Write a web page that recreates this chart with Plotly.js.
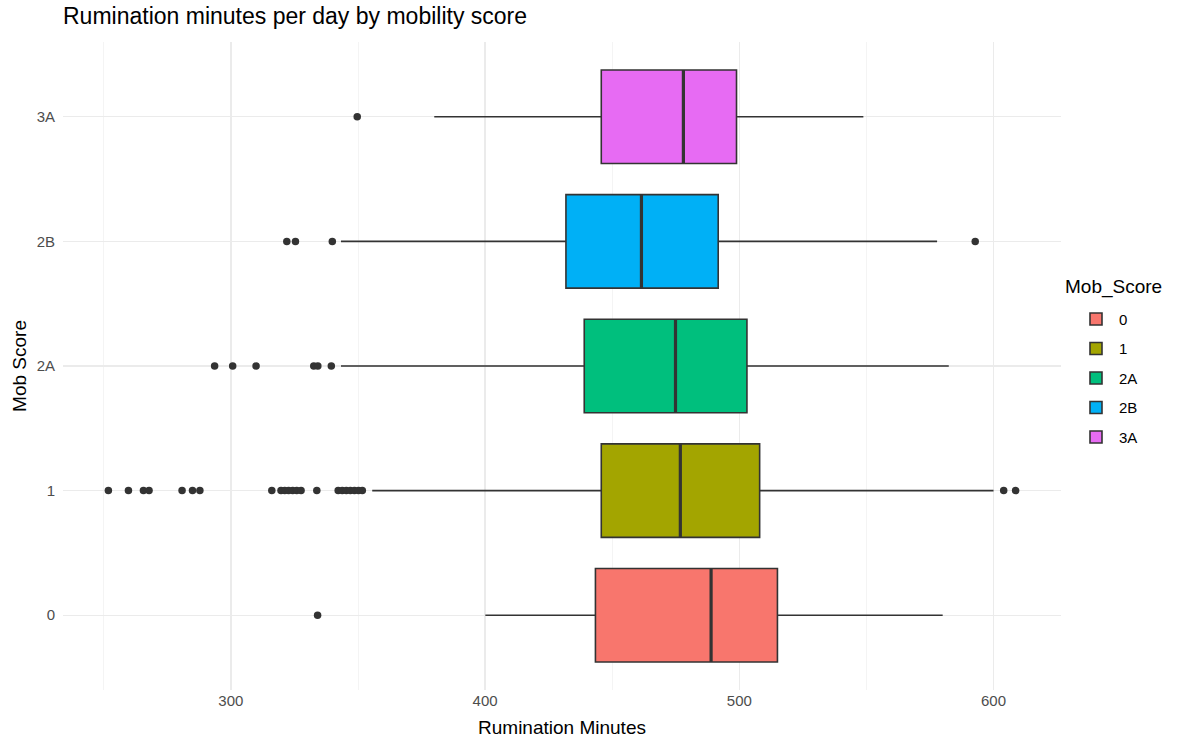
<!DOCTYPE html>
<html>
<head>
<meta charset="utf-8">
<script src="https://cdn.plot.ly/plotly-3.0.1.min.js"></script>
<style>
  html, body { margin: 0; padding: 0; background: #ffffff; }
  #chart { width: 1200px; height: 738px; }
</style>
</head>
<body>
<div id="chart"></div>
<script>
// Mobility score groups, bottom to top
const categories = ["0", "1", "2A", "2B", "3A"];
const fillColors = ["#F8766D", "#A3A500", "#00BF7D", "#00B0F6", "#E76BF3"];

// Five-number summaries of rumination minutes per group
const lowerWhisker = [400.1, 355.6, 343.3, 343.3, 380.0];
const q1Values     = [443.4, 445.7, 439.0, 431.8, 445.7];
const medianValues = [488.9, 476.8, 474.9, 461.5, 478.0];
const q3Values     = [515.0, 508.0, 503.0, 491.7, 498.9];
const upperWhisker = [580.0, 600.0, 582.4, 577.8, 548.8];

// Outlying observations per group
const outliers0  = [334.1];
const outliers1  = [251.8, 259.7, 265.6, 267.8, 280.8, 284.9, 287.8,
                    316.1, 319.7, 321.2, 322.7, 324.3, 325.9, 327.6,
                    333.8, 342.2, 343.8, 345.4, 347.0, 348.6, 350.2, 351.7,
                    604.0, 608.7];
const outliers2A = [293.6, 300.7, 309.9, 332.6, 334.2, 339.5];
const outliers2B = [322.0, 325.4, 339.9, 592.8];
const outliers3A = [349.7];
const outlierSets = [outliers0, outliers1, outliers2A, outliers2B, outliers3A];

const xTickValues = [300, 400, 500, 600];

const BOX_WIDTH = 0.75;
const FONT = "Liberation Sans, Arial, Helvetica, sans-serif";
const INK = "#333333";

const traces = [];

// One box per group (precomputed statistics, no caps on whiskers)
categories.forEach((cat, i) => {
  traces.push({
    type: "box",
    orientation: "h",
    name: cat,
    legendgroup: "g" + i,
    y: [i],
    q1: [q1Values[i]],
    median: [medianValues[i]],
    q3: [q3Values[i]],
    lowerfence: [lowerWhisker[i]],
    upperfence: [upperWhisker[i]],
    width: BOX_WIDTH,
    whiskerwidth: 0,
    fillcolor: fillColors[i],
    line: { color: INK, width: 1.6 },
    boxpoints: false,
    hoverinfo: "skip",
    showlegend: true
  });
});

// Heavier median bars drawn over each box
categories.forEach((cat, i) => {
  traces.push({
    type: "scatter",
    mode: "lines",
    x: [medianValues[i], medianValues[i]],
    y: [i - BOX_WIDTH / 2, i + BOX_WIDTH / 2],
    line: { color: INK, width: 3.2 },
    showlegend: false,
    hoverinfo: "skip"
  });
});

// Outlier points
const outX = [];
const outY = [];
outlierSets.forEach((set, i) => {
  set.forEach(v => { outX.push(v); outY.push(i); });
});
traces.push({
  type: "scatter",
  mode: "markers",
  x: outX,
  y: outY,
  marker: { color: INK, size: 7.5 },
  showlegend: false,
  hoverinfo: "skip"
});

// x range: data extent padded by 5% on each side
const allX = outX.concat(lowerWhisker, upperWhisker);
const xMin = Math.min(...allX), xMax = Math.max(...allX);
const pad = (xMax - xMin) * 0.05;

const layout = {
  width: 1200,
  height: 738,
  paper_bgcolor: "#ffffff",
  plot_bgcolor: "#ffffff",
  font: { family: FONT, color: "#000000" },
  margin: { l: 63, r: 139, t: 42, b: 48 },
  boxmode: "overlay",
  title: {
    text: "Rumination minutes per day by mobility score",
    x: 0, xref: "paper", xanchor: "left",
    y: 1 - 16 / 738, yref: "container", yanchor: "middle",
    font: { family: FONT, size: 23, color: "#000000" }
  },
  xaxis: {
    range: [xMin - pad, xMax + pad],
    tickvals: xTickValues,
    ticks: "",
    showline: false,
    zeroline: false,
    showgrid: true,
    gridcolor: "#ebebeb",
    gridwidth: 1.3,
    minor: { dtick: 50, tick0: 0, showgrid: true, gridcolor: "#f4f4f4", gridwidth: 1 },
    tickfont: { family: FONT, size: 15, color: "#4D4D4D" },
    title: { text: "Rumination Minutes", standoff: 13, font: { family: FONT, size: 19, color: "#000000" } }
  },
  yaxis: {
    range: [-0.6, categories.length - 0.4],
    tickvals: categories.map((c, i) => i),
    ticktext: categories,
    ticks: "",
    ticklabelstandoff: 7,
    showline: false,
    zeroline: false,
    showgrid: true,
    gridcolor: "#ebebeb",
    gridwidth: 1.3,
    tickfont: { family: FONT, size: 15, color: "#4D4D4D" },
    title: { text: "Mob Score", standoff: 4, font: { family: FONT, size: 19, color: "#000000" } }
  },
  legend: {
    x: 1.0, xanchor: "left",
    y: 0.481, yanchor: "middle",
    traceorder: "grouped",
    tracegroupgap: 7,
    indentation: 12,
    itemwidth: 36,
    font: { family: FONT, size: 15, color: "#000000" },
    bgcolor: "rgba(0,0,0,0)"
  },
  // legend heading
  annotations: [{
    text: "Mob_Score",
    xref: "paper", yref: "paper",
    x: 1.0, xanchor: "left", xshift: 2,
    y: 0.622, yanchor: "middle",
    showarrow: false,
    font: { family: FONT, size: 19, color: "#000000" }
  }],
  showlegend: true
};

Plotly.newPlot("chart", traces, layout, { displayModeBar: false, staticPlot: true });
</script>
</body>
</html>
